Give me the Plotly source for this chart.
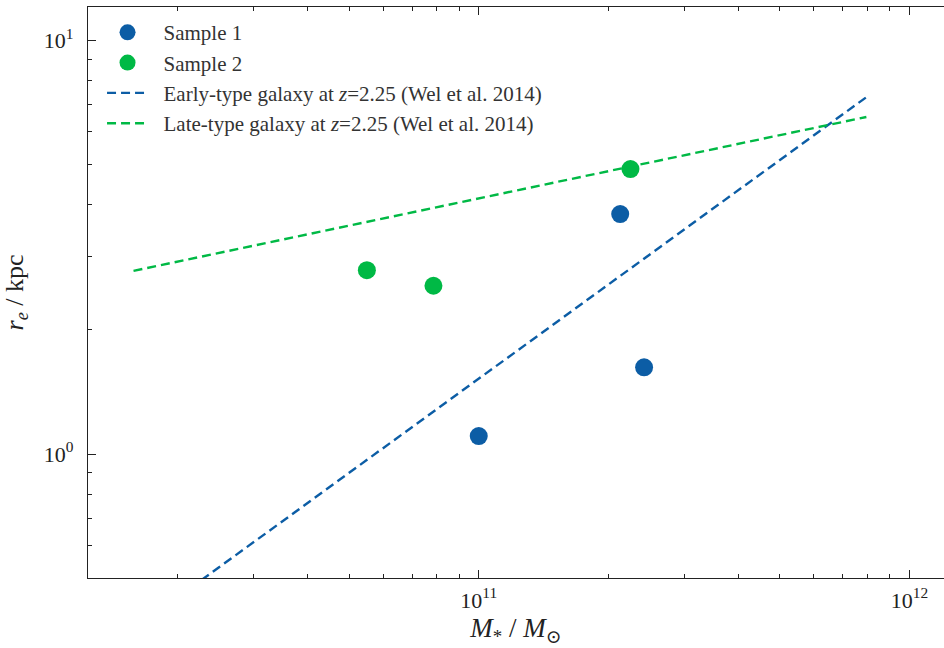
import plotly.graph_objects as go

# Stellar mass (M_sun) and effective radius (kpc) of the two samples
sample1_mass = [1.00e11, 2.13e11, 2.42e11]
sample1_re = [1.105, 3.80, 1.62]
sample2_mass = [5.5e10, 7.85e10, 2.25e11]
sample2_re = [2.78, 2.55, 4.88]

# van der Wel et al. (2014) size-mass relations at z = 2.25 (end points)
relation_mass = [1.58e10, 7.94e11]
early_re = [0.377, 7.28]
late_re = [2.77, 6.52]

BLUE = "#0C5DA5"
GREEN = "#00B945"
FONT = "'Liberation Serif', 'DejaVu Serif', serif"
INK = "#222"
PAD = "&nbsp;&nbsp;"  # extra space between legend symbol and label

fig = go.Figure()
fig.add_trace(go.Scatter(x=sample1_mass, y=sample1_re, mode="markers", name=PAD + "Sample 1",
                         marker=dict(color=BLUE, size=18), legendgroup="a"))
fig.add_trace(go.Scatter(x=sample2_mass, y=sample2_re, mode="markers", name=PAD + "Sample 2",
                         marker=dict(color=GREEN, size=18), legendgroup="b"))
fig.add_trace(go.Scatter(x=relation_mass, y=early_re, mode="lines",
                         name=PAD + "Early-type galaxy at <i>z</i>=2.25 (Wel et al. 2014)",
                         line=dict(color=BLUE, width=2.4, dash="9px,5px"), legendgroup="c"))
fig.add_trace(go.Scatter(x=relation_mass, y=late_re, mode="lines",
                         name=PAD + "Late-type galaxy at <i>z</i>=2.25 (Wel et al. 2014)",
                         line=dict(color=GREEN, width=2.4, dash="9px,5px"), legendgroup="d"))

x_minor = [m * 10 ** e for e in (10, 11) for m in range(2, 10)]
y_minor = [0.6, 0.7, 0.8, 0.9] + list(range(2, 10))

fig.update_xaxes(
    type="log", range=[10.093, 12.08],
    tickvals=[1e11, 1e12], ticktext=["10<sup>11</sup>", "10<sup>12</sup>"],
    ticks="inside", ticklen=8, tickwidth=1.3, tickcolor=INK,
    minor=dict(tickvals=x_minor, ticks="inside", ticklen=4, tickwidth=1, tickcolor=INK),
    showline=True, linecolor=INK, linewidth=1.3, mirror="ticks",
    showgrid=False, zeroline=False, ticklabelstandoff=2,
    tickfont=dict(family=FONT, size=22, color=INK),
    title=dict(text="<i>M</i><sub>*</sub> / <i>M</i><sub>⊙</sub>",
               font=dict(family=FONT, size=27, color=INK), standoff=6),
)
fig.update_yaxes(
    type="log", range=[-0.2995, 1.08],
    tickvals=[1, 10], ticktext=["10<sup>0</sup>", "10<sup>1</sup>"],
    ticks="inside", ticklen=8, tickwidth=1.3, tickcolor=INK,
    minor=dict(tickvals=y_minor, ticks="inside", ticklen=4, tickwidth=1, tickcolor=INK),
    showline=True, linecolor=INK, linewidth=1.3, mirror=False,
    showgrid=False, zeroline=False, ticklabelstandoff=9,
    tickfont=dict(family=FONT, size=22, color=INK),
    title=dict(text="<i>r<sub>e</sub></i> / kpc",
               font=dict(family=FONT, size=26, color=INK), standoff=14),
)

fig.update_layout(
    width=944, height=648,
    margin=dict(l=88, r=0, t=7, b=70),
    paper_bgcolor="white", plot_bgcolor="white",
    font=dict(family=FONT, color=INK),
    legend=dict(x=0.0164, y=0.991, xanchor="left", yanchor="top",
                bgcolor="rgba(0,0,0,0)", borderwidth=0, itemwidth=41,
                font=dict(family=FONT, size=21, color="#333"),
                tracegroupgap=0, traceorder="grouped"),
    showlegend=True,
)

fig.write_html("out.html")
